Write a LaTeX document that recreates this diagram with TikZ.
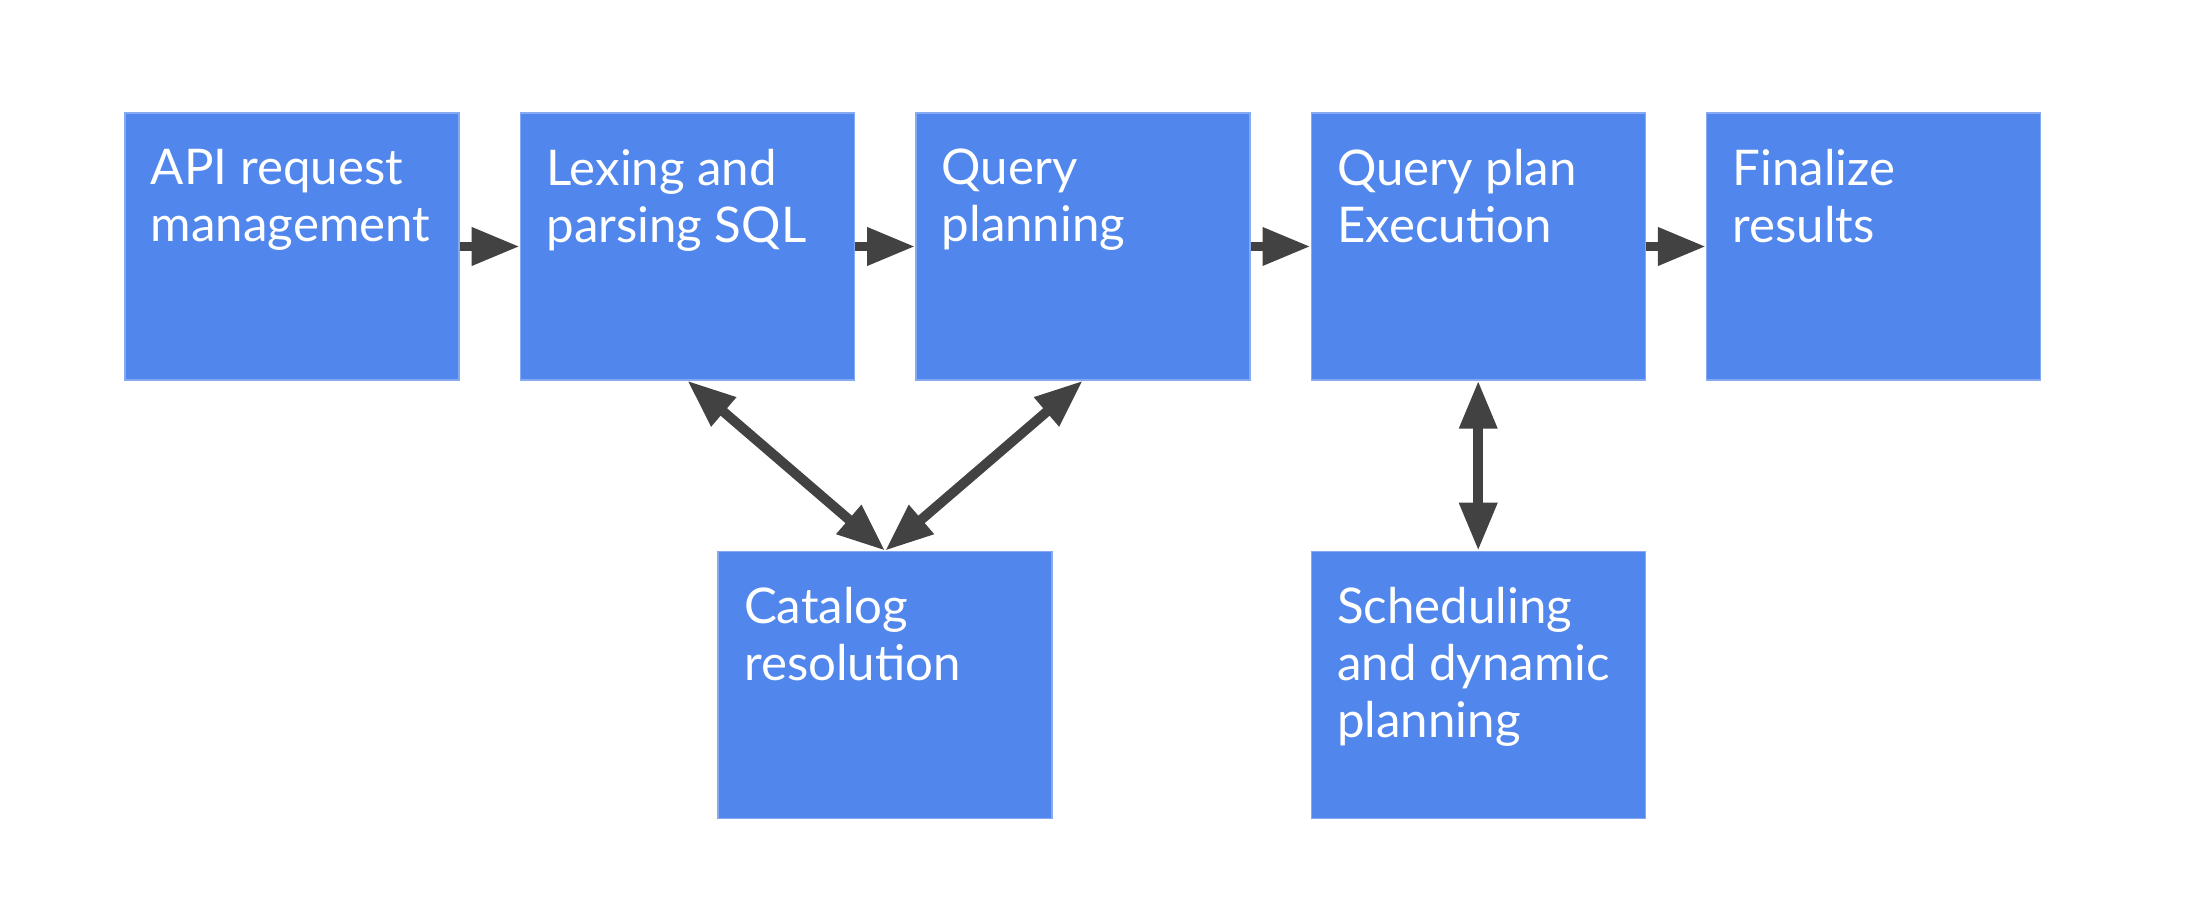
\documentclass[tikz,border=0pt]{standalone}
\usepackage{fontspec}
\setmainfont{Lato}
\usetikzlibrary{positioning,calc,arrows.meta}
\definecolor{stageblue}{HTML}{5186EC}
\definecolor{arrowgray}{HTML}{424242}
\tikzset{stage/.style={fill=stageblue, draw=stageblue!70!white, line width=0.4pt,
		minimum width=3.34cm, minimum height=2.67cm, inner xsep=0.26cm, inner ysep=0.36cm,
		text=white, font=\fontsize{14}{16.2}\selectfont}}
\tikzset{flowtip/.tip={Triangle[length=0.48cm,width=0.36cm]}}
\tikzset{flow/.style={draw=arrowgray, line width=2.8pt, -flowtip}}
\tikzset{both/.style={draw=arrowgray, line width=2.8pt, flowtip-flowtip}}
\newcommand{\stagetext}[1]{\begin{minipage}[t][1.95cm][t]{2.82cm}\raggedright #1\end{minipage}}

\begin{document}
\begin{tikzpicture}
	\useasboundingbox (0,0) rectangle (22.1,9.04);
	% top row
	\node[stage] (api) at (2.92,6.575) {\stagetext{API request\\management}};
	\node[stage, right=0.6cm of api] (lex) {\stagetext{Lexing and\\parsing SQL}};
	\node[stage, right=0.6cm of lex] (plan) {\stagetext{Query\\planning}};
	\node[stage, right=0.6cm of plan] (exec) {\stagetext{Query plan\\Execution}};
	\node[stage, right=0.6cm of exec] (fin) {\stagetext{Finalize\\results}};
	% bottom row
	\node[stage, anchor=north] (cat) at ($(lex.south)!0.5!(plan.south)+(0,-1.7)$) {\stagetext{Catalog\\resolution}};
	\node[stage, below=1.7cm of exec] (sched) {\stagetext{Scheduling\\and dynamic\\planning}};
	
	\draw[flow] (api) -- (lex);
	\draw[flow] (lex) -- (plan);
	\draw[flow] (plan) -- (exec);
	\draw[flow] (exec) -- (fin);
	\draw[both] (lex.south) -- (cat.north);
	\draw[both] (plan.south) -- (cat.north);
	\draw[both] (exec) -- (sched);
\end{tikzpicture}
\end{document}
